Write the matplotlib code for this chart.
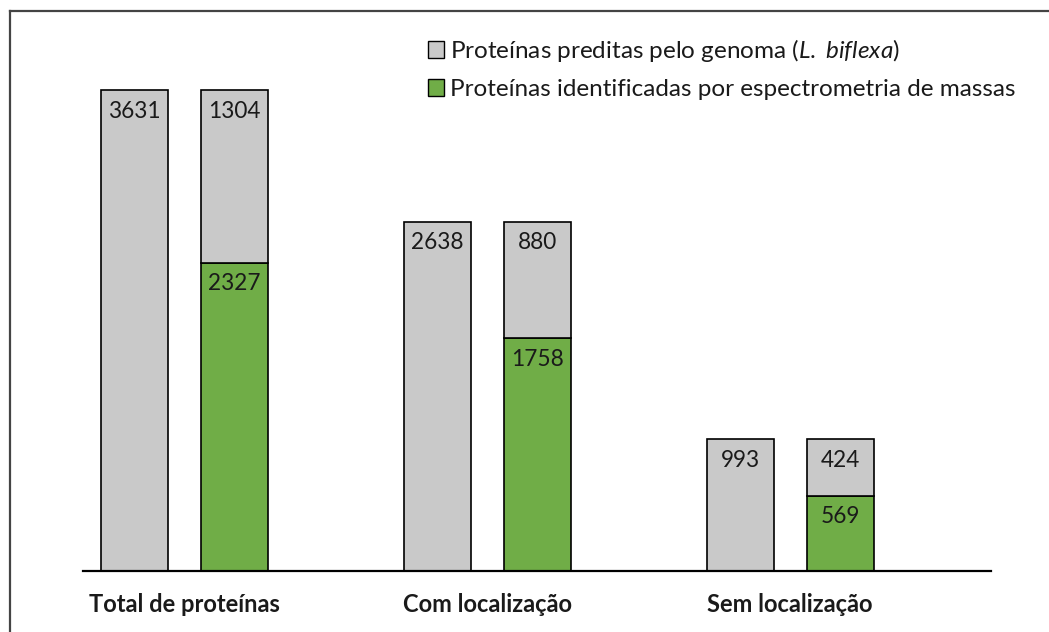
import matplotlib.pyplot as plt
import matplotlib.lines as mlines
import matplotlib.patches as mpatches
import numpy as np

plt.rcParams['font.family'] = ['Lato', 'DejaVu Sans']
plt.rcParams['mathtext.fontset'] = 'custom'
plt.rcParams['mathtext.rm'] = 'Lato'
plt.rcParams['mathtext.it'] = 'Lato:italic'

# data
categories = ['Total de proteínas', 'Com localização', 'Sem localização']
preditas = [3631, 2638, 993]
identificadas = [2327, 1758, 569]
nao_identificadas = [1304, 880, 424]
legend_labels = ['Proteínas preditas pelo genoma ($\\mathit{L.}$ $\\mathit{biflexa}$)',
                 'Proteínas identificadas por espectrometria de massas']

grey = '#C9C9C9'
green = '#70AD47'
text_col = '#1a1a1a'

W, H, DPI = 1049, 632, 100
fig = plt.figure(figsize=(W / DPI, H / DPI), dpi=DPI)
ax = fig.add_axes([83 / W, (H - 571) / H, (991 - 83) / W, (571 - 41) / H])

x = np.arange(len(categories))
off = 50 / 303
width = 67 / 303
edge = dict(edgecolor='black', linewidth=1.2)

ax.bar(x - off, preditas, width, color=grey, **edge)
ax.bar(x + off, identificadas, width, color=green, **edge)
ax.bar(x + off, nao_identificadas, width, bottom=identificadas, color=grey, **edge)

ax.set_xlim(-0.335, 2.663)
ax.set_ylim(0, 530 / (481 / 3631))

px = 72 / DPI  # points per pixel
fs_val = 16.3
fs_cat = 17
for i in range(len(categories)):
    ax.annotate(str(preditas[i]), (x[i] - off, preditas[i]), xytext=(0, -21 * px),
                textcoords='offset points', ha='center', va='center', fontsize=fs_val, color=text_col)
    top = identificadas[i] + nao_identificadas[i]
    ax.annotate(str(nao_identificadas[i]), (x[i] + off, top), xytext=(0, -21 * px),
                textcoords='offset points', ha='center', va='center', fontsize=fs_val, color=text_col)
    ax.annotate(str(identificadas[i]), (x[i] + off, identificadas[i]), xytext=(0, -21 * px),
                textcoords='offset points', ha='center', va='center', fontsize=fs_val, color=text_col)
    ax.annotate(categories[i], (x[i], 0), xytext=(0, -34 * px),
                textcoords='offset points', ha='center', va='center', fontsize=fs_cat,
                fontweight='bold', color=text_col)

for s in ['top', 'right', 'left']:
    ax.spines[s].set_visible(False)
ax.spines['bottom'].set_linewidth(1.6)
ax.set_xticks([])
ax.set_yticks([])

handles = [mpatches.Patch(facecolor=grey, edgecolor='black', linewidth=1.0),
           mpatches.Patch(facecolor=green, edgecolor='black', linewidth=1.0)]
fig.legend(handles, legend_labels, loc='upper left', bbox_to_anchor=(428 / W, 1 - 37 / H),
           frameon=False, fontsize=17.5, handlelength=0.65, handleheight=0.65,
           handletextpad=0.25, labelspacing=0.62, borderaxespad=0, borderpad=0,
           labelcolor=text_col)

# outer frame (left and top edges only visible)
fig.add_artist(mlines.Line2D([10 / W, 10 / W], [0, 1 - 11 / H], color='#444444', linewidth=1.6))
fig.add_artist(mlines.Line2D([10 / W, 1], [1 - 11 / H, 1 - 11 / H], color='#444444', linewidth=1.6))

fig.savefig('out.png', dpi=DPI)
